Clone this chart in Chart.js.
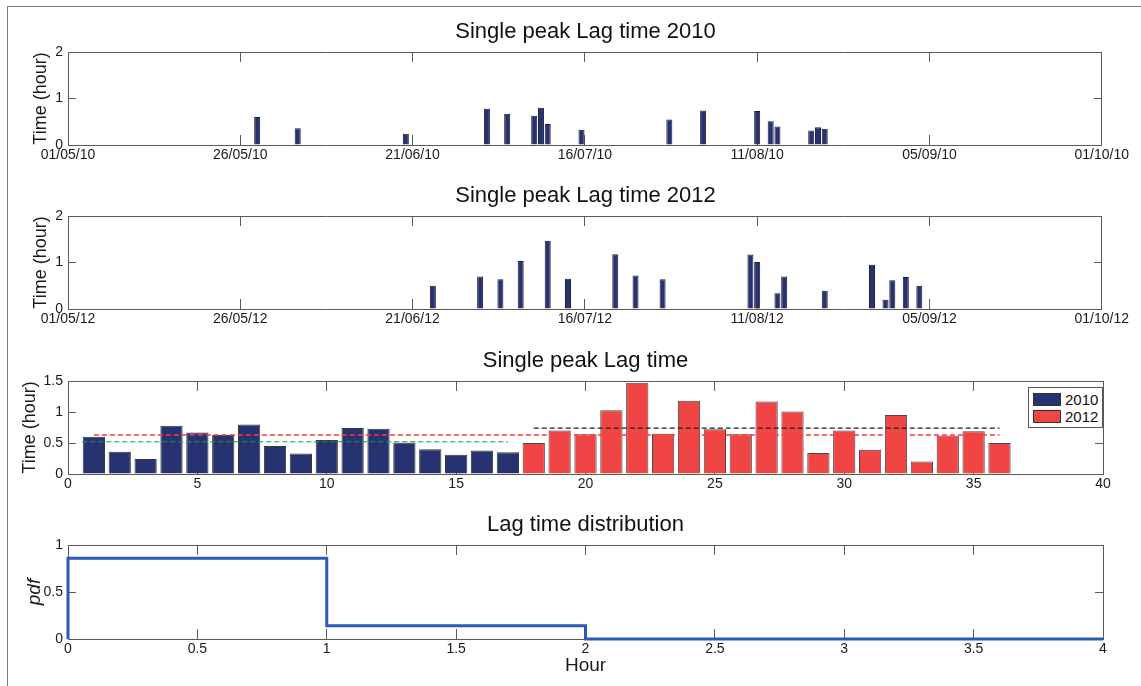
<!DOCTYPE html>
<html>
<head>
<meta charset="utf-8">
<script src="https://cdn.jsdelivr.net/npm/chart.js@4.4.0/dist/chart.umd.min.js"></script>
<style>
  body { margin: 0; background: #fff; width: 1141px; height: 686px; overflow: hidden; position: relative;
         font-family: 'Liberation Sans', Arial, sans-serif; }
  .frame { position: absolute; left: 7px; top: 6px; width: 1200px; height: 700px;
           border-left: 1px solid #7a7a7a; border-top: 1px solid #7a7a7a; }
  canvas { position: absolute; left: 0; }
  .panel-title { position: absolute; left: 68px; width: 1035px; text-align: center;
                 font-size: 22px; line-height: 22px; color: #111; }
  .legend { position: absolute; background: #fff; border: 1px solid #555; padding: 3px 4px 2px 4px; }
  .legend-item { display: flex; align-items: center; height: 17px; font-size: 15px; color: #111; }
  .legend-swatch { width: 28px; height: 13px; margin-right: 4px; box-sizing: border-box; border: 1px solid #333; }
</style>
</head>
<body>
<div class="frame"></div>
<script>
// --- Values ---
// date axes: days since 01/05 (ticks every 25.5 days up to 01/10)
const dateTickDays = [0, 25.5, 51, 76.5, 102, 127.5, 153];
const dateTickLabels2010 = ['01/05/10', '26/05/10', '21/06/10', '16/07/10', '11/08/10', '05/09/10', '01/10/10'];
const dateTickLabels2012 = ['01/05/12', '26/05/12', '21/06/12', '16/07/12', '11/08/12', '05/09/12', '01/10/12'];

const peakDates2010 = ['29/05', '04/06', '20/06', '02/07', '05/07', '09/07', '10/07', '11/07', '16/07',
                       '29/07', '03/08', '11/08', '13/08', '14/08', '19/08', '20/08', '21/08'];
const lagTime2010 = [0.60, 0.36, 0.24, 0.78, 0.67, 0.63, 0.80, 0.45, 0.33,
                     0.55, 0.74, 0.73, 0.51, 0.40, 0.31, 0.38, 0.35];

const peakDates2012 = ['24/06', '01/07', '04/07', '07/07', '11/07', '14/07', '21/07', '24/07', '28/07', '10/08',
                       '11/08', '14/08', '15/08', '21/08', '28/08', '30/08', '31/08', '02/09', '04/09'];
const lagTime2012 = [0.50, 0.70, 0.64, 1.03, 1.47, 0.65, 1.18, 0.72, 0.64, 1.17,
                     1.01, 0.34, 0.70, 0.39, 0.95, 0.20, 0.62, 0.69, 0.50];

// mean lines in the combined panel: [value, fromEvent, toEvent]
const meanLine2010 = [0.52, 0.55, 17];
const meanLine2012 = [0.74, 18, 36];
const meanLineAll = [0.63, 1, 36];

const eventTicks = [0, 5, 10, 15, 20, 25, 30, 35, 40];
const lagTicks = [0, 0.5, 1, 1.5];
const hourTicks2 = [0, 1, 2];

// lag time distribution (pdf per 1 h bin)
const pdfBinEdges = [0, 1, 2, 4];
const pdfValues = [0.86, 0.14, 0];
const hourTicks = [0, 0.5, 1, 1.5, 2, 2.5, 3, 3.5, 4];
const pdfTicks = [0, 0.5, 1];

// --- Styles ---
const NAVY = '#263370';
const RED = '#ef4545';
const BLUE = '#2b5ab6';
const AXIS_COLOR = '#5a5a5a';
const TEXT = '#1a1a1a';

Chart.defaults.font.family = "'Liberation Sans', Arial, sans-serif";
Chart.defaults.color = TEXT;

const MONTH_START = { '05': 0, '06': 31, '07': 61, '08': 92, '09': 123, '10': 153 };
function dayOffset(ddmm) {
  const [d, m] = ddmm.split('/');
  return MONTH_START[m] + Number(d) - 1;
}

function edgeGrid(len) {
  return { drawOnChartArea: false, offset: false, tickLength: len, color: AXIS_COLOR, tickColor: AXIS_COLOR, lineWidth: 1 };
}

function useTicks(values) {
  return scale => { scale.ticks = values.map(v => ({ value: v })); };
}

function xScale(position, ticks, labels, size, title) {
  return {
    type: 'linear', position: position, offset: false,
    min: ticks[0], max: ticks[ticks.length - 1],
    afterBuildTicks: useTicks(ticks),
    afterFit: s => { s.height = size; },
    grid: edgeGrid(-10),
    border: { color: AXIS_COLOR, width: 1 },
    ticks: {
      display: position === 'bottom', color: TEXT, font: { size: 14 }, padding: 12,
      maxRotation: 0, autoSkip: false,
      callback: (v, i) => (labels ? labels[i] : String(v)),
    },
    title: title || { display: false },
  };
}

function yScale(position, ticks, size, title) {
  return {
    type: 'linear', position: position,
    min: ticks[0], max: ticks[ticks.length - 1],
    afterBuildTicks: useTicks(ticks),
    afterFit: s => { s.width = size; },
    grid: edgeGrid(-8),
    border: { color: AXIS_COLOR, width: 1 },
    ticks: { display: position === 'left', color: TEXT, font: { size: 14 }, padding: 13, callback: v => String(v) },
    title: title || { display: false },
  };
}

function baseOptions(scales) {
  return {
    responsive: false, animation: false, events: [],
    layout: { padding: { left: 0, right: 38, top: 42, bottom: 0 } },
    plugins: { legend: { display: false }, tooltip: { enabled: false } },
    scales: scales,
  };
}

// plotTop/plotBottom are where the axes box sits in the page
function makeChart(plotTop, plotBottom, axisHeight, title, config) {
  const canvas = document.createElement('canvas');
  canvas.width = 1141;
  canvas.height = 42 + (plotBottom - plotTop) + axisHeight;
  canvas.style.top = (plotTop - 42) + 'px';
  document.body.appendChild(canvas);

  // title centred over the axes box
  const t = document.createElement('div');
  t.className = 'panel-title';
  t.style.top = (plotTop - 32) + 'px';
  t.textContent = title;
  document.body.appendChild(t);

  return new Chart(canvas, config);
}

function timeTitle(pad) {
  return { display: true, text: 'Time (hour)', color: TEXT, font: { size: 18 }, padding: { top: pad, bottom: 0 } };
}

function datePanel(plotTop, plotBottom, title, dates, values, tickLabels) {
  return makeChart(plotTop, plotBottom, 30, title, {
    type: 'bar',
    data: {
      datasets: [{
        data: dates.map((d, i) => ({ x: dayOffset(d), y: values[i] })),
        backgroundColor: NAVY,
        borderColor: '#1c1c3a',
        borderWidth: 1,
        barPercentage: 0.89,
        categoryPercentage: 1,
        xAxisID: 'x', yAxisID: 'y',
      }],
    },
    options: baseOptions({
      x: xScale('bottom', dateTickDays, tickLabels, 30),
      x2: xScale('top', dateTickDays, null, 0),
      y: yScale('left', hourTicks2, 68, timeTitle(30)),
      y2: yScale('right', hourTicks2, 0),
    }),
  });
}

// --- Panels 1 & 2: lag time per event date ---
datePanel(52, 145, 'Single peak Lag time 2010', peakDates2010, lagTime2010, dateTickLabels2010);
datePanel(216, 309, 'Single peak Lag time 2012', peakDates2012, lagTime2012, dateTickLabels2012);

// --- Panel 3: all events side by side ---
function meanDataset(line, color, width) {
  return {
    type: 'line',
    data: [{ x: line[1], y: line[0] }, { x: line[2], y: line[0] }],
    borderColor: color, borderWidth: width, borderDash: [5, 3],
    pointRadius: 0, order: 0, xAxisID: 'x', yAxisID: 'y',
  };
}

const combined = makeChart(381, 474, 30, 'Single peak Lag time', {
  type: 'bar',
  data: {
    datasets: [
      meanDataset(meanLine2010, '#1a9e36', 1.2),
      meanDataset(meanLine2012, '#222222', 1.2),
      meanDataset(meanLineAll, '#ff3b3b', 1.6),
      {
        type: 'bar', label: '2010',
        data: lagTime2010.map((v, i) => ({ x: i + 1, y: v })),
        backgroundColor: NAVY, borderColor: '#3a3a3a', borderWidth: 1,
        grouped: false, barPercentage: 0.86, categoryPercentage: 1, order: 1,
        xAxisID: 'x', yAxisID: 'y',
      },
      {
        type: 'bar', label: '2012',
        data: lagTime2012.map((v, i) => ({ x: lagTime2010.length + i + 1, y: v })),
        backgroundColor: RED, borderColor: '#4a4a4a', borderWidth: 1,
        grouped: false, barPercentage: 0.86, categoryPercentage: 1, order: 1,
        xAxisID: 'x', yAxisID: 'y',
      },
    ],
  },
  options: baseOptions({
    x: xScale('bottom', eventTicks, null, 30),
    x2: xScale('top', eventTicks, null, 0),
    y: yScale('left', lagTicks, 68, timeTitle(19)),
    y2: yScale('right', lagTicks, 0),
  }),
});

// legend box inside the axes, top right
(function buildLegend(chart) {
  const box = document.createElement('div');
  box.className = 'legend';
  box.style.left = '1028px';
  box.style.top = '387px';
  chart.data.datasets.filter(ds => ds.label).forEach(ds => {
    const item = document.createElement('div');
    item.className = 'legend-item';
    const sw = document.createElement('span');
    sw.className = 'legend-swatch';
    sw.style.background = ds.backgroundColor;
    const txt = document.createElement('span');
    txt.textContent = ds.label;
    item.appendChild(sw);
    item.appendChild(txt);
    box.appendChild(item);
  });
  document.body.appendChild(box);
})(combined);

// --- Panel 4: lag time distribution (stairs) ---
const pdfPoints = [{ x: pdfBinEdges[0], y: 0 }]
  .concat(pdfValues.map((v, i) => ({ x: pdfBinEdges[i], y: v })))
  .concat([{ x: pdfBinEdges[pdfBinEdges.length - 1], y: pdfValues[pdfValues.length - 1] }]);

makeChart(545, 639, 46, 'Lag time distribution', {
  type: 'line',
  data: {
    datasets: [{
      data: pdfPoints,
      stepped: true,
      borderColor: BLUE, borderWidth: 3,
      pointRadius: 0, clip: false,
      xAxisID: 'x', yAxisID: 'y',
    }],
  },
  options: baseOptions({
    x: xScale('bottom', hourTicks, null, 46,
      { display: true, text: 'Hour', color: TEXT, font: { size: 19 }, padding: { top: 0, bottom: 8 } }),
    x2: xScale('top', hourTicks, null, 0),
    y: yScale('left', pdfTicks, 68,
      { display: true, text: 'pdf', color: TEXT, font: { size: 19, style: 'italic' }, padding: { top: 23, bottom: 0 } }),
    y2: yScale('right', pdfTicks, 0),
  }),
});
</script>
</body>
</html>
